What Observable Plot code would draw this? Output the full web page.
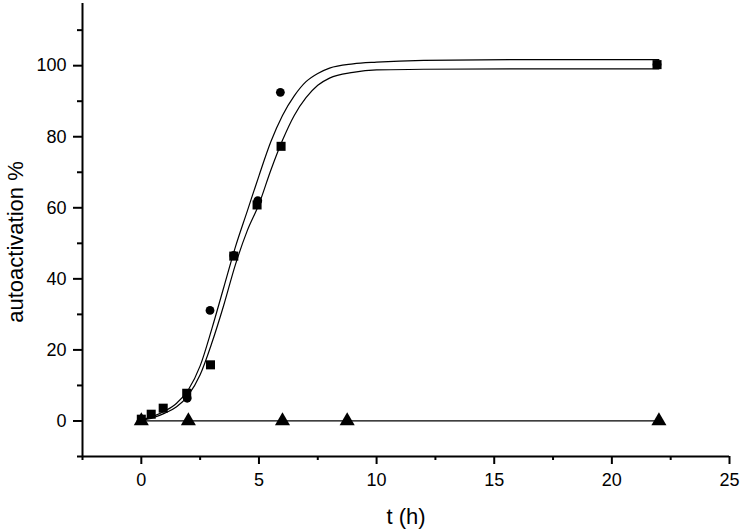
<!DOCTYPE html>
<html><head><meta charset="utf-8">
<script src="https://cdn.jsdelivr.net/npm/d3@7"></script>
<script src="https://cdn.jsdelivr.net/npm/@observablehq/plot@0.6"></script>
<style>html,body{margin:0;padding:0;background:#fff}</style>
</head><body><div id="chart"></div>
<script>
// Measured points
const squareT = [0, 0.42, 0.93, 1.93, 2.94, 3.93, 4.92, 5.94, 21.92];
const squareV = [0.5, 1.9, 3.6, 7.8, 15.8, 46.4, 60.8, 77.3, 100.3];
const circleT = [0, 1.95, 2.92, 3.93, 4.95, 5.91, 21.92];
const circleV = [0.2, 6.4, 31.1, 46.6, 62.0, 92.5, 100.3];
const triangleT = [0, 2, 6, 8.75, 22];
const triangleV = [0, 0, 0, 0, 0];
// Fitted curves
const upperT = [0, 0.5, 1, 1.5, 2, 2.5, 3, 3.5, 4, 4.5, 5, 5.5, 6, 6.5, 7, 7.5, 8, 9, 10, 12, 16, 22];
const upperV = [0.3, 1.3, 2.8, 5, 8.8, 15.5, 26, 37.5, 49, 59, 69, 78.5, 86, 91.5, 95.5, 97.8, 99.3, 100.5, 101, 101.5, 101.7, 101.7];
const lowerT = [0, 0.5, 1, 1.5, 2, 2.5, 3, 3.5, 4, 4.5, 5, 5.5, 6, 6.5, 7, 7.5, 8, 9, 10, 12, 16, 22];
const lowerV = [0.1, 0.9, 2.2, 4, 7.3, 13, 22, 32.5, 44, 53.5, 61, 70.5, 79, 86, 91, 94.5, 96.5, 98.1, 98.8, 99.0, 99.1, 99.1];
// Axes
const xDomain = [-2.5, 25];
const yDomain = [-10, 117.5];
const xMajor = [0, 5, 10, 15, 20, 25];
const xMinor = [-2.5, 2.5, 7.5, 12.5, 17.5, 22.5];
const yMajor = [0, 20, 40, 60, 80, 100];
const yMinor = [-10, 10, 30, 50, 70, 90, 110];
const xTitle = "t (h)";
const yTitle = "autoactivation %";

const zip = (a, b) => a.map((t, i) => ({t, v: b[i]}));
const squares = zip(squareT, squareV);
const circles = zip(circleT, circleV);
const triangles = zip(triangleT, triangleV);
const upper = zip(upperT, upperV);
const lower = zip(lowerT, lowerV);

const chart = Plot.plot({
  width: 741,
  height: 530,
  marginLeft: 82,
  marginRight: 12,
  marginTop: 3,
  marginBottom: 74,
  style: {fontFamily: "'Liberation Sans', Arial, sans-serif", fontSize: "18px", background: "#fff", color: "#000"},
  x: {domain: xDomain, label: null},
  y: {domain: yDomain, label: null},
  marks: [
    Plot.ruleY([yDomain[0]], {strokeWidth: 2, stroke: "#000"}),
    Plot.ruleX([xDomain[0]], {strokeWidth: 2, stroke: "#000"}),
    Plot.axisX(xMajor, {tickSize: 8, tickPadding: 9, strokeWidth: 2, fontSize: 18, label: null}),
    Plot.axisX(xMinor, {tickSize: 4, tickFormat: () => "", strokeWidth: 2, label: null}),
    Plot.axisY(yMajor, {tickSize: 9, tickPadding: 7, strokeWidth: 2, fontSize: 18, label: null}),
    Plot.axisY(yMinor, {tickSize: 5, tickFormat: () => "", strokeWidth: 2, label: null}),
    Plot.line(triangles, {x: "t", y: "v", stroke: "#000", strokeWidth: 1.2}),
    Plot.line(upper, {x: "t", y: "v", curve: "monotone-x", stroke: "#000", strokeWidth: 1.2}),
    Plot.line(lower, {x: "t", y: "v", curve: "monotone-x", stroke: "#000", strokeWidth: 1.2}),
    Plot.dot(circles, {x: "t", y: "v", symbol: "circle", r: 4.4, fill: "#000", stroke: "none"}),
    Plot.dot(squares, {x: "t", y: "v", symbol: "square", r: 5.1, fill: "#000", stroke: "none"}),
    Plot.dot(triangles, {x: "t", y: "v", symbol: "triangle", r: 5.6, fill: "#000", stroke: "none"}),
    Plot.text([xTitle], {frameAnchor: "bottom", dy: 60, text: d => d, fontSize: 22, textAnchor: "middle", lineAnchor: "middle"}),
    Plot.text([yTitle], {frameAnchor: "left", dx: -67, dy: 12, rotate: -90, text: d => d, fontSize: 22, textAnchor: "middle", lineAnchor: "middle"})
  ]
});
document.getElementById("chart").append(chart);
</script>
</body></html>
